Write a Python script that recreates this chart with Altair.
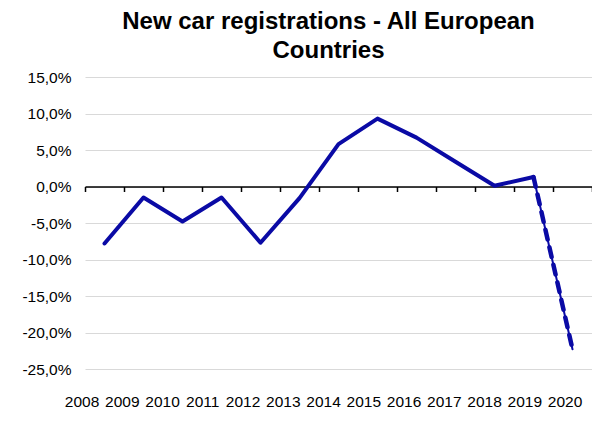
import altair as alt
import pandas as pd

years = ["2008", "2009", "2010", "2011", "2012", "2013", "2014",
         "2015", "2016", "2017", "2018", "2019", "2020"]
growth = [-7.8, -1.5, -4.8, -1.5, -7.7, -1.6, 5.8, 9.3, 6.7, 3.4, 0.1, 1.3, -22.3]
y_ticks = [-25, -20, -15, -10, -5, 0, 5, 10, 15]

df = pd.DataFrame({"year": years, "growth": growth})
solid = df.iloc[:12]
dashed = df.iloc[11:]

W, H = 507, 292
zero_from_bottom = H * 25 / 40
LINE = "#0a0aa5"

xscale = alt.Scale(type="band", paddingInner=0, paddingOuter=0, domain=years)
yscale = alt.Scale(domain=[-25, 15], nice=False, zero=False)

x_axis = alt.Axis(
    offset=-zero_from_bottom, domainColor="black", domainWidth=1.5,
    tickColor="black", tickWidth=1.5, tickSize=5, tickBand="extent",
    labelAngle=0, labelPadding=zero_from_bottom + 20,
    labelOffset={
        "condition": {"test": "datum.value == 'none'", "value": 0},
        "expr": "-23 + 1.25 * (toNumber(datum.value) - 2008)",
    },
    labelFont="Liberation Sans", labelFontSize=15.5, labelColor="black",
    labelOverlap=False, grid=False, title=None,
)
y_axis = alt.Axis(
    values=y_ticks, tickCount=len(y_ticks),
    labelExpr="replace(replace(format(datum.value, '.1f'), '.', ','), '\u2212', '-') + '%'",
    domain=False, ticks=False, labelPadding=14, labelOverlap=False,
    gridColor="#d9d9d9", gridWidth=1,
    labelFont="Liberation Sans", labelFontSize=15.5, labelColor="black", title=None,
)

x_enc = alt.X("year:O", scale=xscale, bandPosition=0.5, axis=x_axis)
x_plain = alt.X("year:O", scale=xscale, bandPosition=0.5)
y_enc = alt.Y("growth:Q", scale=yscale, axis=y_axis)
y_plain = alt.Y("growth:Q", scale=yscale)

main = alt.Chart(solid).mark_line(
    color=LINE, strokeWidth=4, strokeCap="round", strokeJoin="round"
).encode(x=x_enc, y=y_enc)

thin = alt.Chart(dashed).mark_line(
    color=LINE, strokeWidth=2, strokeCap="round"
).encode(x=x_plain, y=y_plain)

dash = alt.Chart(dashed).mark_line(
    color=LINE, strokeWidth=4.5, strokeDash=[10, 8], strokeCap="round"
).encode(x=x_plain, y=y_plain)

chart = alt.layer(main, thin, dash).properties(
    width=W, height=H,
    autosize=alt.AutoSizeParams(type="none"),
    padding={"left": 77, "top": 69, "right": 0, "bottom": 40},
    title=alt.Title(
        ["New car registrations - All European", "Countries"],
        font="Liberation Sans", fontSize=24, fontWeight="bold", color="black",
        anchor="middle", dx=-10, offset=7, lineHeight=29,
    ),
).configure_view(stroke=None)

chart.save("out.html", embed_options={"renderer": "svg", "actions": False})
